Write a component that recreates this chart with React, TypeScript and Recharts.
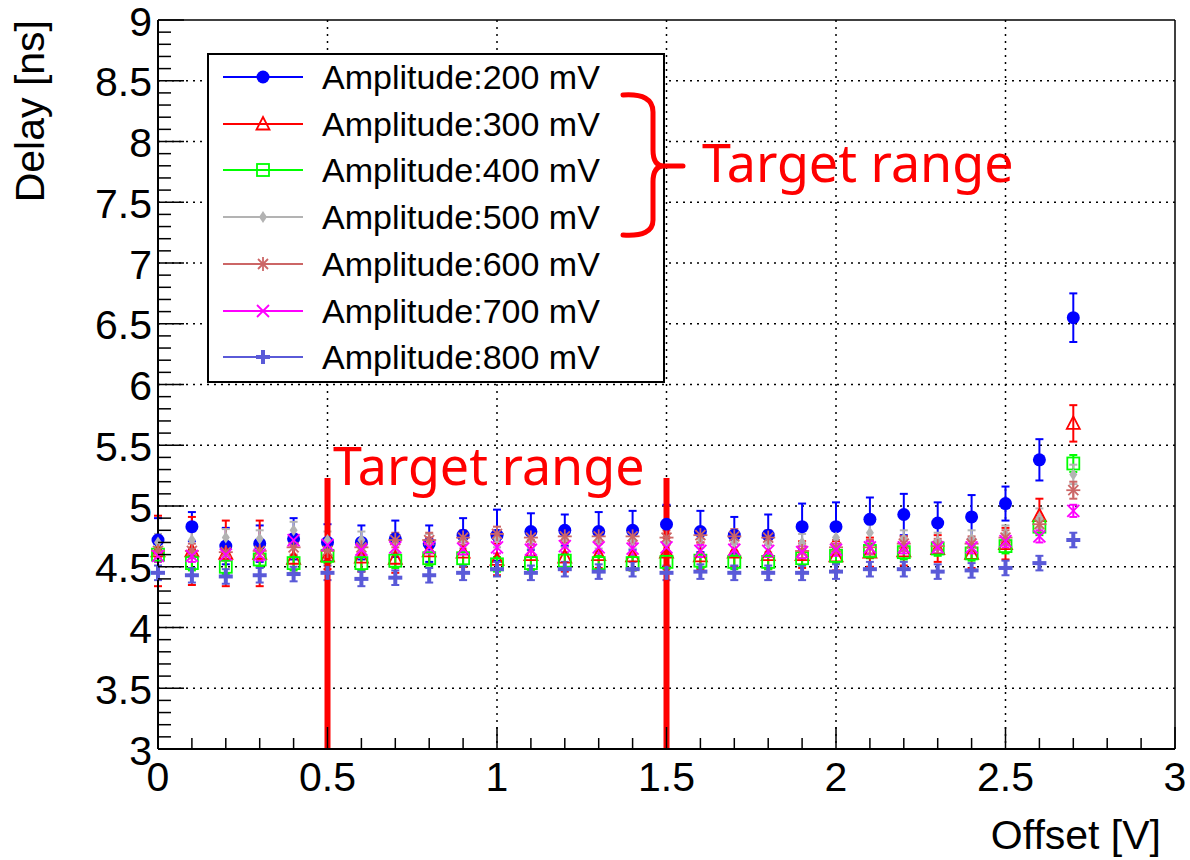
import React from "react";
import { ScatterChart, Scatter, XAxis, YAxis, CartesianGrid, ErrorBar, ReferenceLine, Legend } from "recharts";

// offset [V]
const offsets = [0, 0.1, 0.2, 0.3, 0.4, 0.5, 0.6, 0.7, 0.8, 0.9, 1.0, 1.1, 1.2, 1.3, 1.4, 1.5, 1.6, 1.7, 1.8, 1.9, 2.0, 2.1, 2.2, 2.3, 2.4, 2.5, 2.6, 2.7];

// delay [ns] per amplitude, with errors
const delay200 = [4.72, 4.83, 4.67, 4.69, 4.73, 4.70, 4.70, 4.73, 4.69, 4.76, 4.76, 4.79, 4.80, 4.79, 4.80, 4.85, 4.79, 4.76, 4.76, 4.83, 4.83, 4.89, 4.93, 4.86, 4.91, 5.02, 5.38, 6.55];
const err200 = [0.18, 0.12, 0.15, 0.15, 0.17, 0.15, 0.14, 0.15, 0.15, 0.14, 0.21, 0.15, 0.13, 0.16, 0.16, 0.16, 0.17, 0.15, 0.17, 0.19, 0.2, 0.18, 0.17, 0.17, 0.18, 0.14, 0.17, 0.2];
const delay300 = [4.63, 4.63, 4.61, 4.61, 4.57, 4.59, 4.58, 4.57, 4.63, 4.62, 4.56, 4.60, 4.58, 4.60, 4.59, 4.62, 4.59, 4.62, 4.60, 4.60, 4.59, 4.62, 4.63, 4.65, 4.61, 4.69, 4.92, 5.68];
const err300 = [0.29, 0.28, 0.27, 0.27, 0.12, 0.11, 0.12, 0.12, 0.11, 0.12, 0.13, 0.12, 0.12, 0.11, 0.12, 0.12, 0.11, 0.12, 0.12, 0.11, 0.12, 0.12, 0.12, 0.11, 0.12, 0.13, 0.14, 0.15];
const delay400 = [4.60, 4.53, 4.50, 4.56, 4.53, 4.59, 4.53, 4.55, 4.57, 4.57, 4.52, 4.53, 4.55, 4.53, 4.53, 4.54, 4.55, 4.54, 4.54, 4.57, 4.59, 4.63, 4.62, 4.65, 4.61, 4.67, 4.83, 5.35];
const err400 = [0.06, 0.06, 0.06, 0.06, 0.06, 0.06, 0.06, 0.06, 0.06, 0.06, 0.06, 0.06, 0.06, 0.06, 0.06, 0.06, 0.06, 0.06, 0.06, 0.06, 0.06, 0.06, 0.06, 0.06, 0.06, 0.06, 0.07, 0.07];
const delay500 = [4.70, 4.72, 4.74, 4.73, 4.80, 4.72, 4.72, 4.70, 4.70, 4.72, 4.73, 4.72, 4.73, 4.72, 4.72, 4.70, 4.73, 4.70, 4.69, 4.70, 4.74, 4.78, 4.73, 4.71, 4.73, 4.77, 4.90, 5.26];
const err500 = [0.07, 0.07, 0.07, 0.07, 0.07, 0.07, 0.07, 0.07, 0.07, 0.07, 0.07, 0.07, 0.07, 0.07, 0.07, 0.07, 0.07, 0.07, 0.07, 0.07, 0.07, 0.07, 0.07, 0.07, 0.07, 0.07, 0.08, 0.08];
const delay600 = [4.63, 4.63, 4.62, 4.63, 4.66, 4.63, 4.66, 4.72, 4.72, 4.74, 4.77, 4.74, 4.75, 4.75, 4.75, 4.74, 4.76, 4.75, 4.74, 4.63, 4.66, 4.66, 4.69, 4.67, 4.69, 4.74, 4.85, 5.13];
const err600 = [0.06, 0.06, 0.06, 0.06, 0.06, 0.06, 0.06, 0.06, 0.06, 0.06, 0.06, 0.06, 0.06, 0.06, 0.06, 0.06, 0.06, 0.06, 0.06, 0.06, 0.06, 0.06, 0.06, 0.06, 0.06, 0.06, 0.07, 0.07];
const delay700 = [4.59, 4.59, 4.60, 4.60, 4.72, 4.68, 4.64, 4.66, 4.66, 4.65, 4.66, 4.64, 4.67, 4.66, 4.65, 4.66, 4.63, 4.64, 4.63, 4.62, 4.64, 4.66, 4.66, 4.66, 4.66, 4.71, 4.75, 4.96];
const err700 = [0.05, 0.05, 0.05, 0.05, 0.05, 0.05, 0.05, 0.05, 0.05, 0.05, 0.05, 0.05, 0.05, 0.05, 0.05, 0.05, 0.05, 0.05, 0.05, 0.05, 0.05, 0.05, 0.05, 0.05, 0.05, 0.05, 0.05, 0.05];
const delay800 = [4.45, 4.43, 4.42, 4.43, 4.44, 4.45, 4.40, 4.41, 4.43, 4.45, 4.48, 4.45, 4.48, 4.46, 4.48, 4.45, 4.46, 4.45, 4.45, 4.45, 4.46, 4.48, 4.48, 4.46, 4.47, 4.49, 4.53, 4.72];
const err800 = [0.06, 0.06, 0.06, 0.06, 0.06, 0.06, 0.06, 0.06, 0.06, 0.06, 0.06, 0.06, 0.06, 0.06, 0.06, 0.06, 0.06, 0.06, 0.06, 0.06, 0.06, 0.06, 0.06, 0.06, 0.06, 0.06, 0.06, 0.06];

const xTicks = Array.from({ length: 31 }, (_, i) => i / 10);
const yTicks = Array.from({ length: 61 }, (_, i) => (30 + i) / 10);
const xGrid = [0.5, 1, 1.5, 2, 2.5];
const yGrid = [3.5, 4, 4.5, 5, 5.5, 6, 6.5, 7, 7.5, 8, 8.5];

const FONT = "'Liberation Sans', Arial, Helvetica, sans-serif";
const RED_FONT = "'Noto Sans', sans-serif";

const series = [
  { name: "Amplitude:200 mV", color: "#0000ff", kind: "circle", y: delay200, e: err200 },
  { name: "Amplitude:300 mV", color: "#ff0000", kind: "triangle", y: delay300, e: err300 },
  { name: "Amplitude:400 mV", color: "#00ff00", kind: "square", y: delay400, e: err400 },
  { name: "Amplitude:500 mV", color: "#b3b3b3", kind: "diamond", y: delay500, e: err500 },
  { name: "Amplitude:600 mV", color: "#cc6666", kind: "star", y: delay600, e: err600 },
  { name: "Amplitude:700 mV", color: "#ff00ff", kind: "cross", y: delay700, e: err700 },
  { name: "Amplitude:800 mV", color: "#5a5ad8", kind: "plus", y: delay800, e: err800 },
];

function Marker({ kind, cx, cy, color }: any) {
  switch (kind) {
    case "circle":
      return <circle cx={cx} cy={cy} r={6.5} fill={color} />;
    case "triangle":
      return <path d={`M${cx},${cy - 7} L${cx + 6.5},${cy + 5.5} L${cx - 6.5},${cy + 5.5} Z`} fill="none" stroke={color} strokeWidth={1.8} />;
    case "square":
      return <rect x={cx - 6} y={cy - 6} width={12} height={12} fill="none" stroke={color} strokeWidth={1.8} />;
    case "diamond":
      return <path d={`M${cx},${cy - 6} L${cx + 4},${cy} L${cx},${cy + 6} L${cx - 4},${cy} Z`} fill={color} />;
    case "star":
      return (
        <g stroke={color} strokeWidth={1.8}>
          <line x1={cx - 7} y1={cy} x2={cx + 7} y2={cy} />
          <line x1={cx} y1={cy - 7} x2={cx} y2={cy + 7} />
          <line x1={cx - 5} y1={cy - 5} x2={cx + 5} y2={cy + 5} />
          <line x1={cx - 5} y1={cy + 5} x2={cx + 5} y2={cy - 5} />
        </g>
      );
    case "cross":
      return (
        <g stroke={color} strokeWidth={1.8}>
          <line x1={cx - 6} y1={cy - 6} x2={cx + 6} y2={cy + 6} />
          <line x1={cx - 6} y1={cy + 6} x2={cx + 6} y2={cy - 6} />
        </g>
      );
    default:
      return (
        <g stroke={color} strokeWidth={4}>
          <line x1={cx - 7} y1={cy} x2={cx + 7} y2={cy} />
          <line x1={cx} y1={cy - 7} x2={cx} y2={cy + 7} />
        </g>
      );
  }
}

const isMajor = (v: number) => Math.abs(v * 2 - Math.round(v * 2)) < 1e-6;
const fmt = (v: number) => String(Math.round(v * 10) / 10);

function XTick(props: any) {
  const { x, y, payload } = props;
  const major = isMajor(payload.value);
  return (
    <g>
      <line x1={x} y1={y} x2={x} y2={y - (major ? 22 : 11)} stroke="#000" strokeWidth={1.5} />
      {major && (
        <text x={x} y={y + 42} textAnchor="middle" fontSize={41} fontFamily={FONT} fill="#000">
          {fmt(payload.value)}
        </text>
      )}
    </g>
  );
}

function YTick(props: any) {
  const { x, y, payload } = props;
  const major = isMajor(payload.value);
  return (
    <g>
      <line x1={x} y1={y} x2={x + (major ? 26 : 13)} y2={y} stroke="#000" strokeWidth={1.5} />
      {major && (
        <text x={x - 6} y={y} dy="0.38em" textAnchor="end" fontSize={41} fontFamily={FONT} fill="#000">
          {fmt(payload.value)}
        </text>
      )}
    </g>
  );
}

function LegendBox() {
  return (
    <div style={{ width: 454, height: 326, border: "2px solid #000", background: "#fff", position: "relative" }}>
      {series.map((s, i) => (
        <div key={s.name} style={{ position: "absolute", left: 0, top: 22 + i * 46.7 - 23, height: 46, display: "flex", alignItems: "center" }}>
          <svg width={110} height={46}>
            <line x1={14} y1={23} x2={94} y2={23} stroke={s.color} strokeWidth={2} />
            <Marker kind={s.kind} cx={54} cy={23} color={s.color} />
          </svg>
          <span style={{ fontSize: 34, fontFamily: FONT, color: "#000", marginLeft: 3, lineHeight: "46px" }}>{s.name}</span>
        </div>
      ))}
    </div>
  );
}

export default function App() {
  return (
    <div style={{ position: "absolute", left: 0, top: 0, width: 1190, height: 860, background: "#fff" }}>
      <ScatterChart width={1190} height={860} margin={{ top: 20, right: 15, bottom: 110, left: 157 }}>
        <CartesianGrid stroke="#000" strokeWidth={1.5} strokeDasharray="2 5" horizontalValues={yGrid} verticalValues={xGrid} />
        <XAxis type="number" dataKey="x" domain={[0, 3]} ticks={xTicks} interval={0} height={1} tickSize={0} tickMargin={0}
          tick={<XTick />} axisLine={{ stroke: "#000", strokeWidth: 2 }} tickLine={false} />
        <YAxis type="number" dataKey="y" domain={[3, 9]} ticks={yTicks} interval={0} width={1} tickSize={0} tickMargin={0}
          tick={<YTick />} axisLine={{ stroke: "#000", strokeWidth: 2 }} tickLine={false} />
        <ReferenceLine y={9} stroke="#000" strokeWidth={1.5} />
        <ReferenceLine x={3} stroke="#000" strokeWidth={1.5} />
        {series.map((s) => (
          <Scatter
            key={s.name}
            name={s.name}
            data={offsets.map((x, i) => ({ x, y: s.y[i], err: s.e[i] }))}
            fill={s.color}
            isAnimationActive={false}
            shape={(p: any) => <Marker kind={s.kind} cx={p.cx} cy={p.cy} color={s.color} />}
          >
            <ErrorBar dataKey="err" direction="y" width={4} stroke={s.color} strokeWidth={2} />
          </Scatter>
        ))}
        <ReferenceLine segment={[{ x: 0.5, y: 3 }, { x: 0.5, y: 5.23 }]} stroke="#ff0000" strokeWidth={6} />
        <ReferenceLine segment={[{ x: 1.5, y: 3 }, { x: 1.5, y: 5.23 }]} stroke="#ff0000" strokeWidth={6} />
        <Legend layout="vertical" align="center" verticalAlign="middle" content={() => <LegendBox />}
          wrapperStyle={{ left: 207, top: 53, width: 458, height: 330 }} />
      </ScatterChart>
      <svg width={1190} height={860} style={{ position: "absolute", left: 0, top: 0, pointerEvents: "none" }}>
        <text x={44} y={20} transform="rotate(-90 44 20)" textAnchor="end" fontSize={41} fontFamily={FONT} fill="#000">Delay [ns]</text>
        <text x={1161} y={849} textAnchor="end" fontSize={41} fontFamily={FONT} fill="#000">Offset [V]</text>
        <text x={333} y={485} fontSize={52} fontFamily={RED_FONT} fill="#ff0000">Target range</text>
        <text x={702} y={182} fontSize={52} fontFamily={RED_FONT} fill="#ff0000">Target range</text>
        <path d="M623,95 Q653,93 653,112 L653,150 Q653,166 664,166 L683,166 M664,166 Q653,166 653,182 L653,220 Q653,237 623,235"
          fill="none" stroke="#ff0000" strokeWidth={5} strokeLinecap="round" />
      </svg>
    </div>
  );
}
